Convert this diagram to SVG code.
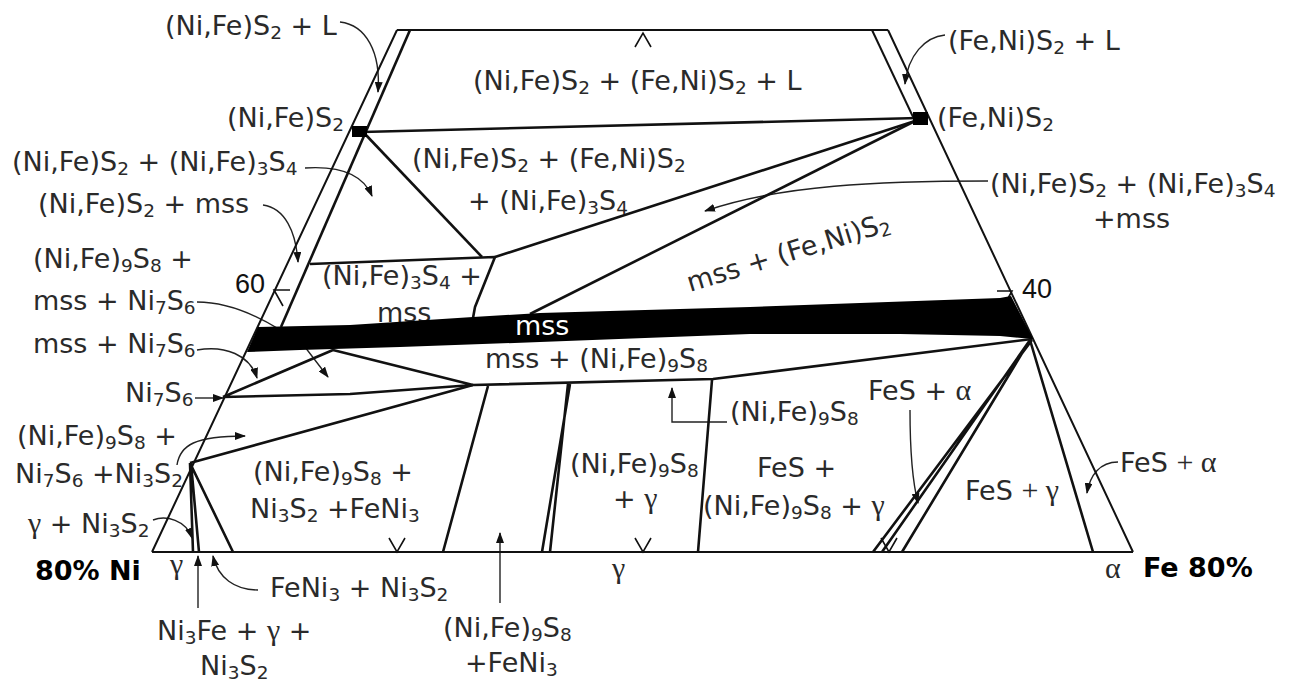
<svg xmlns="http://www.w3.org/2000/svg" width="1295" height="689" viewBox="0 0 1295 689">
<defs>
<marker id="ah" markerUnits="userSpaceOnUse" markerWidth="11" markerHeight="8" refX="10" refY="4" orient="auto">
<path d="M0,0 L11,4 L0,8 z" fill="#111"/>
</marker>
<style>
.t{font-family:"DejaVu Sans","Liberation Sans",sans-serif;font-size:27px;fill:#2a2a2a}
.sb{font-size:18.5px}
.g{font-family:"Liberation Serif",serif;font-size:30px}
.b{font-family:"DejaVu Sans",sans-serif;font-weight:bold;font-size:27px;fill:#000}
.n{font-family:"Liberation Sans",sans-serif;font-size:27px;fill:#111}
.ln{stroke:#111;stroke-width:2.6;fill:none;stroke-linejoin:round}
.bd{stroke:#111;stroke-width:2;fill:none}
.tk{stroke:#111;stroke-width:1.6;fill:none}
.ld{stroke:#222;stroke-width:1.4;fill:none;marker-end:url(#ah)}
</style>
</defs>
<rect width="1295" height="689" fill="#fff"/>

<g id="leaders">
<path class="ld" d="M340,22 C366,25 381,52 378,92"/>
<path class="ld" d="M945,35 C925,37 908,55 905,84"/>
<path class="ld" d="M305,168 C335,166 362,172 372,196"/>
<path class="ld" d="M263,205 C285,208 296,232 298,262"/>
<path class="ld" d="M988,181 C880,181 780,185 705,211"/>
<path class="ld" d="M197,302 C235,302 272,322 305,347 L328,377"/>
<path class="ld" d="M197,350 C225,345 250,355 257,378"/>
<path class="ld" d="M195,398 L223,398"/>
<path class="ld" d="M177,465 C180,445 195,436 245,436"/>
<path class="ld" d="M153,520 C166,515 186,520 192,538"/>
<path class="ld" d="M198,608 L198,556"/>
<path class="ld" d="M258,590 C235,590 218,578 213,556"/>
<path class="ld" d="M500,603 L500,533"/>
<path class="ld" d="M727,422 L672,422 L672,388"/>
<path class="ld" d="M910,410 C910,450 912,480 918,503"/>
<path class="ld" d="M1118,462 C1100,462 1090,475 1087,493"/>
</g>

<g id="boundaries">
<path class="bd" d="M397,30 L888,30 M397,30 L152,552 M888,30 L1133,552 M152,552 L1133,552"/>
<path class="ln" d="M410,30 L281,327"/>
<path class="bd" d="M872,30 L914,119"/>
<path class="ln" d="M362,132 L918,118"/>
<path class="ln" d="M365,134 L482,257"/>
<path class="ln" d="M310,264 L495,257 L475,307 L473,318"/>
<path class="ln" d="M495,257 L915,121"/>
<path class="ln" d="M530,314 L915,121"/>
<path class="ln" d="M223,397 L333,350 L473,385 M223,397 L350,394 L473,385"/>
<path class="ln" d="M190,463 L473,385 L713,379 L1032,339"/>
<path class="ln" d="M488,386 L443,552 M570,384 L542,552 M568,384 L550,552 M712,380 L698,552"/>
<path class="ln" d="M190,463 L193,552 M191,463 L199,552 M190,463 L233,552"/>
<path class="ln" d="M1032,340 L873,552 M1030,340 L882,552 M1030,340 L902,552 M1030,340 L1093,552"/>
<path class="tk" d="M635,47 L643,33 L651,47 M389,538 L397,552 L405,538 M635,538 L643,552 L651,538 M881,538 L889,552 L897,538 M290,290 L274,290 L283,306 M997,291 L1012,291 L1006,302"/>
<rect x="352" y="126" width="15" height="11" fill="#000"/>
<rect x="913" y="112" width="15" height="13" fill="#000"/>
</g>

<g id="labels">
<text class="t" x="165" y="35">(Ni,Fe)S<tspan class="sb" dy="4">2</tspan><tspan dy="-4"> + L</tspan></text>
<text class="t" x="948" y="50">(Fe,Ni)S<tspan class="sb" dy="4">2</tspan><tspan dy="-4"> + L</tspan></text>
<text class="t" x="473" y="90">(Ni,Fe)S<tspan class="sb" dy="4">2</tspan><tspan dy="-4"> + (Fe,Ni)S</tspan><tspan class="sb" dy="4">2</tspan><tspan dy="-4"> + L</tspan></text>
<text class="t" x="227" y="127">(Ni,Fe)S<tspan class="sb" dy="4">2</tspan></text>
<text class="t" x="937" y="127">(Fe,Ni)S<tspan class="sb" dy="4">2</tspan></text>
<text class="t" x="12" y="171">(Ni,Fe)S<tspan class="sb" dy="4">2</tspan><tspan dy="-4"> + (Ni,Fe)</tspan><tspan class="sb" dy="4">3</tspan><tspan dy="-4">S</tspan><tspan class="sb" dy="4">4</tspan></text>
<text class="t" x="412" y="168">(Ni,Fe)S<tspan class="sb" dy="4">2</tspan><tspan dy="-4"> + (Fe,Ni)S</tspan><tspan class="sb" dy="4">2</tspan></text>
<text class="t" x="468" y="210">+ (Ni,Fe)<tspan class="sb" dy="4">3</tspan><tspan dy="-4">S</tspan><tspan class="sb" dy="4">4</tspan></text>
<text class="t" x="990" y="193">(Ni,Fe)S<tspan class="sb" dy="4">2</tspan><tspan dy="-4"> + (Ni,Fe)</tspan><tspan class="sb" dy="4">3</tspan><tspan dy="-4">S</tspan><tspan class="sb" dy="4">4</tspan></text>
<text class="t" x="1093" y="228">+mss</text>
<text class="t" x="38" y="213">(Ni,Fe)S<tspan class="sb" dy="4">2</tspan><tspan dy="-4"> + mss</tspan></text>
<text class="t" x="33" y="268">(Ni,Fe)<tspan class="sb" dy="4">9</tspan><tspan dy="-4">S</tspan><tspan class="sb" dy="4">8</tspan><tspan dy="-4"> +</tspan></text>
<text class="t" x="33" y="310">mss + Ni<tspan class="sb" dy="4">7</tspan><tspan dy="-4">S</tspan><tspan class="sb" dy="4">6</tspan></text>
<text class="t" x="33" y="353">mss + Ni<tspan class="sb" dy="4">7</tspan><tspan dy="-4">S</tspan><tspan class="sb" dy="4">6</tspan></text>
<text class="t" x="125" y="402">Ni<tspan class="sb" dy="4">7</tspan><tspan dy="-4">S</tspan><tspan class="sb" dy="4">6</tspan></text>
<text class="n" x="235" y="293">60</text>
<text class="n" x="1022" y="298">40</text>
<text class="t" transform="translate(690,292) rotate(-17)">mss + (Fe,Ni)S<tspan class="sb" dy="4">2</tspan></text>
<text class="t" x="322" y="285">(Ni,Fe)<tspan class="sb" dy="4">3</tspan><tspan dy="-4">S</tspan><tspan class="sb" dy="4">4</tspan><tspan dy="-4"> +</tspan></text>
<text class="t" x="377" y="322">mss</text>
<text class="t" x="485" y="368">mss + (Ni,Fe)<tspan class="sb" dy="4">9</tspan><tspan dy="-4">S</tspan><tspan class="sb" dy="4">8</tspan></text>
<text class="t" x="730" y="421">(Ni,Fe)<tspan class="sb" dy="4">9</tspan><tspan dy="-4">S</tspan><tspan class="sb" dy="4">8</tspan></text>
<text class="t" x="868" y="400">FeS + <tspan class="g">α</tspan></text>
<text class="t" x="570" y="473">(Ni,Fe)<tspan class="sb" dy="4">9</tspan><tspan dy="-4">S</tspan><tspan class="sb" dy="4">8</tspan></text>
<text class="t" x="613" y="508">+ <tspan class="g">γ</tspan></text>
<text class="t" x="757" y="477">FeS +</text>
<text class="t" x="703" y="515">(Ni,Fe)<tspan class="sb" dy="4">9</tspan><tspan dy="-4">S</tspan><tspan class="sb" dy="4">8</tspan><tspan dy="-4"> + </tspan><tspan class="g">γ</tspan></text>
<text class="t" x="965" y="500">FeS <tspan class="g">+ γ</tspan></text>
<text class="t" x="1120" y="472">FeS <tspan class="g">+ α</tspan></text>
<text class="t" x="253" y="481">(Ni,Fe)<tspan class="sb" dy="4">9</tspan><tspan dy="-4">S</tspan><tspan class="sb" dy="4">8</tspan><tspan dy="-4"> +</tspan></text>
<text class="t" x="250" y="518">Ni<tspan class="sb" dy="4">3</tspan><tspan dy="-4">S</tspan><tspan class="sb" dy="4">2</tspan><tspan dy="-4"> +FeNi</tspan><tspan class="sb" dy="4">3</tspan></text>
<text class="t" x="17" y="445">(Ni,Fe)<tspan class="sb" dy="4">9</tspan><tspan dy="-4">S</tspan><tspan class="sb" dy="4">8</tspan><tspan dy="-4"> +</tspan></text>
<text class="t" x="15" y="483">Ni<tspan class="sb" dy="4">7</tspan><tspan dy="-4">S</tspan><tspan class="sb" dy="4">6</tspan><tspan dy="-4"> +Ni</tspan><tspan class="sb" dy="4">3</tspan><tspan dy="-4">S</tspan><tspan class="sb" dy="4">2</tspan></text>
<text class="t" x="28" y="533"><tspan class="g">γ</tspan> + Ni<tspan class="sb" dy="4">3</tspan><tspan dy="-4">S</tspan><tspan class="sb" dy="4">2</tspan></text>
<text class="b" x="35" y="580">80% Ni</text>
<text class="t g" x="170" y="574">γ</text>
<text class="t" x="270" y="597">FeNi<tspan class="sb" dy="4">3</tspan><tspan dy="-4"> + Ni</tspan><tspan class="sb" dy="4">3</tspan><tspan dy="-4">S</tspan><tspan class="sb" dy="4">2</tspan></text>
<text class="t" x="157" y="640">Ni<tspan class="sb" dy="4">3</tspan><tspan dy="-4">Fe + </tspan><tspan class="g">γ</tspan> +</text>
<text class="t" x="200" y="675">Ni<tspan class="sb" dy="4">3</tspan><tspan dy="-4">S</tspan><tspan class="sb" dy="4">2</tspan></text>
<text class="t" x="443" y="637">(Ni,Fe)<tspan class="sb" dy="4">9</tspan><tspan dy="-4">S</tspan><tspan class="sb" dy="4">8</tspan></text>
<text class="t" x="465" y="672">+FeNi<tspan class="sb" dy="4">3</tspan></text>
<text class="t g" x="612" y="578">γ</text>
<text class="t g" x="1105" y="578">α</text>
<text class="b" x="1143" y="577">Fe 80%</text>
</g>

<g id="mss-band">
<polygon points="258,327 350,325 473,317 540,313 750,307 1000,298 1011,296 1033,339 1000,336 900,334 750,334 540,342 400,347 300,350 247,352" fill="#000"/>
<text class="t" x="515" y="335" style="fill:#fff">mss</text>
</g>
</svg>
